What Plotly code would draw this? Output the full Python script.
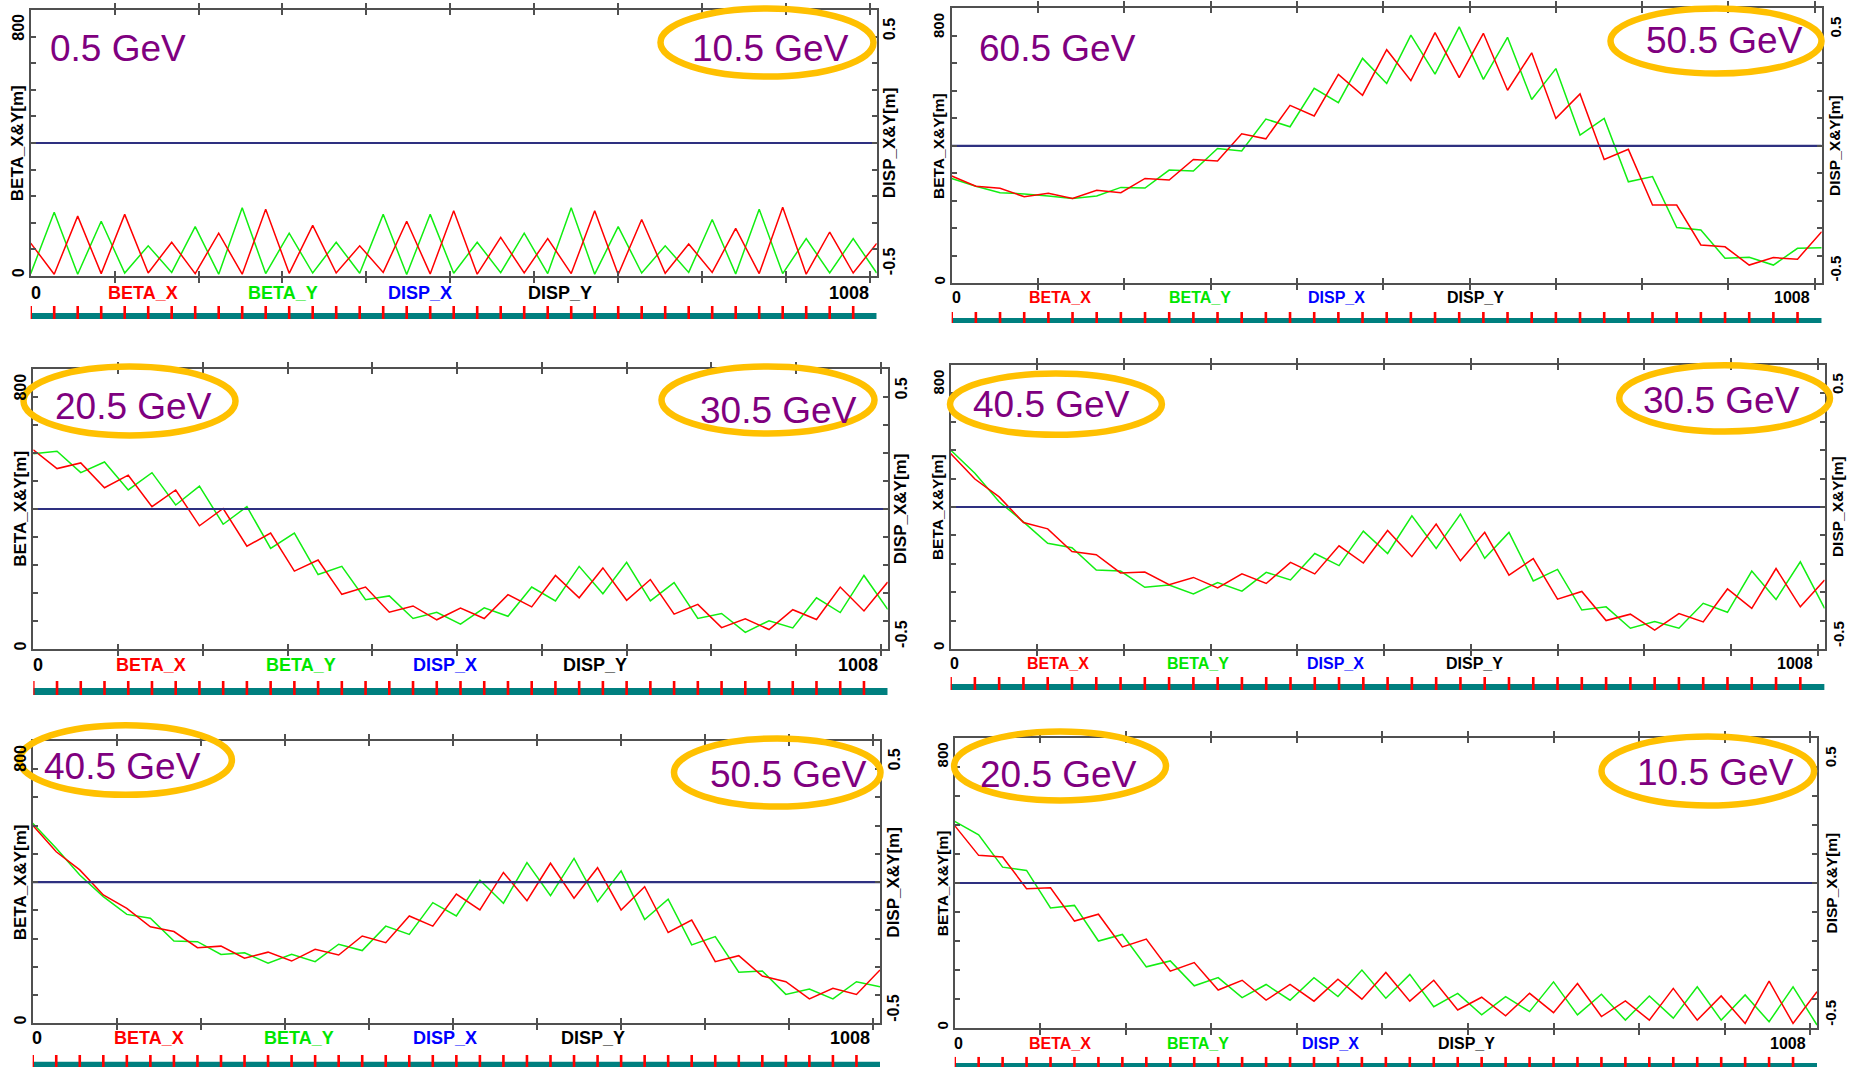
import plotly.graph_objects as go

# ---------------- data ----------------
S_QUAD = [0, 28, 56, 84, 112, 140, 168, 196, 224, 252, 280, 308, 336, 364, 392, 420, 448, 476,
          504, 532, 560, 588, 616, 644, 672, 700, 728, 756, 784, 812, 840, 868, 896, 924, 952, 980, 1008]
QUAD_MARKS = S_QUAD[:-1]

# panel A: 0.5 GeV / 10.5 GeV
BX_A = [110, 6, 200, 8, 206, 10, 113, 8, 143, 6, 223, 9, 169, 10, 101, 12, 183, 7, 218,
        6, 129, 10, 125, 8, 218, 5, 189, 9, 107, 12, 159, 8, 230, 6, 147, 10, 109]
BY_A = [8, 213, 6, 183, 10, 101, 12, 165, 6, 228, 8, 143, 10, 113, 9, 206, 5, 206, 9,
        113, 11, 143, 8, 228, 6, 165, 10, 101, 12, 189, 7, 223, 8, 125, 10, 125, 10]
# panel B: 60.5 GeV / 50.5 GeV
BX_B = [347, 314, 307, 280, 291, 274, 301, 293, 339, 334, 400, 395, 483, 467, 575, 541, 675, 608, 755,
        655, 810, 665, 808, 624, 745, 533, 612, 400, 433, 253, 253, 124, 118, 59, 83, 78, 167]
BY_B = [339, 314, 293, 289, 282, 274, 282, 310, 308, 366, 363, 436, 428, 531, 506, 630, 584, 727, 646,
        802, 676, 829, 659, 795, 594, 694, 479, 533, 328, 345, 180, 172, 81, 84, 59, 113, 115]
# panel C: 20.5 GeV / 30.5 GeV
BX_C = [633, 573, 591, 512, 552, 452, 505, 391, 446, 326, 368, 247, 282, 173, 196, 116, 136, 92, 129,
        96, 172, 133, 233, 162, 257, 154, 220, 110, 141, 67, 95, 61, 124, 93, 196, 120, 212]
BY_C = [620, 628, 560, 594, 505, 560, 457, 517, 396, 452, 319, 368, 236, 262, 156, 168, 96, 116, 78,
        130, 103, 196, 152, 262, 175, 275, 152, 210, 96, 112, 52, 89, 66, 162, 115, 233, 125]
# panel D: 40.5 GeV / 30.5 GeV
BX_D = [612, 532, 476, 396, 376, 305, 295, 238, 241, 201, 224, 191, 235, 205, 271, 235, 323, 269, 371,
        289, 391, 276, 365, 231, 283, 156, 180, 89, 109, 59, 111, 85, 188, 127, 252, 132, 216]
BY_D = [623, 550, 461, 398, 331, 317, 247, 244, 193, 200, 172, 208, 181, 240, 216, 299, 261, 369, 299,
        417, 315, 422, 284, 365, 213, 249, 122, 132, 65, 86, 65, 143, 115, 244, 155, 273, 127]
# panel E: 40.5 GeV / 50.5 GeV
BX_E = [624, 540, 483, 404, 362, 304, 289, 238, 243, 205, 224, 196, 233, 215, 275, 254, 338, 306, 407,
        357, 475, 386, 504, 394, 490, 357, 430, 286, 325, 194, 213, 149, 131, 77, 110, 91, 168]
BY_E = [630, 551, 467, 399, 343, 331, 259, 257, 217, 222, 189, 217, 194, 249, 229, 306, 280, 380, 338,
        451, 378, 506, 402, 519, 383, 480, 327, 391, 247, 273, 161, 165, 91, 108, 77, 131, 115]
# panel F: 20.5 GeV / 10.5 GeV
BX_F = [620, 529, 524, 427, 430, 328, 349, 249, 273, 175, 201, 117, 147, 86, 134, 83, 150, 89, 171,
        83, 147, 56, 95, 38, 107, 48, 137, 36, 84, 25, 122, 25, 99, 15, 144, 15, 112]
BY_F = [633, 592, 493, 483, 368, 376, 267, 287, 188, 206, 130, 155, 94, 134, 86, 155, 97, 178, 92,
        165, 66, 107, 41, 97, 51, 142, 41, 104, 25, 99, 31, 127, 25, 102, 20, 127, 10]

DISP_S = [0, 1008]
DISP_X = [0.0, 0.0]
DISP_Y = [0.0, 0.0]

ENERGY_LEFT = ["0.5 GeV", "60.5 GeV", "20.5 GeV", "40.5 GeV", "40.5 GeV", "20.5 GeV"]
ENERGY_RIGHT = ["10.5 GeV", "50.5 GeV", "30.5 GeV", "30.5 GeV", "50.5 GeV", "10.5 GeV"]
ROW_LABELS = ["0", "BETA_X", "BETA_Y", "DISP_X", "DISP_Y", "1008"]
LEFT_TITLE = "BETA_X&Y[m]"
RIGHT_TITLE = "DISP_X&Y[m]"
LEFT_TICKS = ["0", "800"]
RIGHT_TICKS = ["-0.5", "0.5"]

BETA_X = [BX_A, BX_B, BX_C, BX_D, BX_E, BX_F]
BETA_Y = [BY_A, BY_B, BY_C, BY_D, BY_E, BY_F]

# ---------------- layout (pixel geometry) ----------------
W, H = 1853, 1067
PANELS = [
    dict(box=(30.7, 10, 876.7, 276), ly=293.3, lxs=[36, 143, 283, 419.5, 559.5, 848.5], fs=18,
         strip=(306, 313, 319), ts=17, tks=16, lt=(117.5, 48), rt=(770, 48),
         le=None, re=(657, 5, 877, 80)),
    dict(box=(951.7, 8.3, 1821.7, 283.3), ly=297.7, lxs=[956, 1059.5, 1199.7, 1336, 1475.8, 1792], fs=16,
         strip=(312, 318, 323), ts=15.5, tks=15, lt=(1057, 48), rt=(1724, 40),
         le=None, re=(1607, 5, 1825, 77)),
    dict(box=(33.3, 369.3, 887.7, 648.7), ly=665, lxs=[38.3, 151, 300.5, 445.3, 594.7, 857.5], fs=18,
         strip=(681, 688, 695), ts=17, tks=16, lt=(133, 406), rt=(778, 410),
         le=(20, 363, 239, 439), re=(658, 363, 878, 437)),
    dict(box=(950.6, 365, 1824.6, 649), ly=663, lxs=[954.7, 1058, 1198, 1335, 1474, 1795], fs=16,
         strip=(677, 684, 690), ts=15.5, tks=15, lt=(1051, 404), rt=(1721, 400.5),
         le=(946.5, 370, 1165.4, 438.3), re=(1615.7, 361.7, 1833.5, 435)),
    dict(box=(32.7, 741, 880, 1023.3), ly=1038.3, lxs=[37.3, 149, 298.5, 445, 593, 849.6], fs=18,
         strip=(1055, 1061.7, 1067), ts=17, tks=16, lt=(122, 766), rt=(788, 774),
         le=(16, 721.7, 235.4, 798.3), re=(670.5, 735, 884, 810)),
    dict(box=(954.7, 737.7, 1817, 1028.3), ly=1043.3, lxs=[958, 1059.5, 1197.8, 1330, 1466.8, 1788], fs=16,
         strip=(1056.7, 1063, 1067), ts=15.5, tks=15, lt=(1058.5, 774), rt=(1715, 772),
         le=(950.6, 728, 1169.5, 804), re=(1598, 733, 1817.6, 809)),
]

RED = "#FF0000"
GREEN = "#12EE12"
NAVY = "#2E3080"
FRAME = "#505050"
PURPLE = "#7F007F"
ORANGE = "#FFC000"
TEAL = "#007F7F"
ROW_COLORS = ["#000000", "#FF0000", "#00E600", "#0000FF", "#000000", "#000000"]
FONT = "Liberation Sans, Arial, sans-serif"


def px(x):
    return x / W


def py(y):
    return 1 - y / H


def ref(prefix, n):
    return prefix if n == 1 else f"{prefix}{n}"


fig = go.Figure()
layout = dict(width=W, height=H, margin=dict(l=0, r=0, t=0, b=0), paper_bgcolor="white",
              plot_bgcolor="white", showlegend=False)
annotations = []
shapes = []

Y_TOP = 8000 / 9
left_tickvals = [k * 800 / 9 for k in range(11)]

for i, P in enumerate(PANELS):
    L, T, R, B = P["box"]
    xm, xs = 2 * i + 1, 2 * i + 2
    yl, yr, ys = 3 * i + 1, 3 * i + 2, 3 * i + 3
    axis_common = dict(showgrid=False, zeroline=False, showline=True, linecolor=FRAME, linewidth=2,
                       ticks="inside", ticklen=5, tickwidth=1.5, tickcolor=FRAME, showticklabels=False)
    layout[f"xaxis{xm}" if xm > 1 else "xaxis"] = dict(
        domain=[px(L), px(R)], range=[0, 1008], anchor=ref("y", yl), mirror="allticks",
        tick0=0, dtick=100, **axis_common)
    layout[f"yaxis{yl}" if yl > 1 else "yaxis"] = dict(
        domain=[py(B), py(T)], range=[0, Y_TOP], anchor=ref("x", xm), tickmode="array",
        tickvals=left_tickvals, **axis_common)
    layout[f"yaxis{yr}"] = dict(
        overlaying=ref("y", yl), side="right", range=[-0.625, 0.625], anchor=ref("x", xm),
        tick0=-0.625, dtick=0.125, **axis_common)
    # strip with quadrupole marks
    tick_top, teal_top, bottom = P["strip"]
    layout[f"xaxis{xs}"] = dict(domain=[px(L), px(R)], range=[0, 1008], anchor=ref("y", ys), visible=False)
    layout[f"yaxis{ys}"] = dict(domain=[py(bottom), py(tick_top)], range=[0, 1], anchor=ref("x", xs),
                                visible=False)
    frac = (bottom - teal_top) / (bottom - tick_top)
    shapes.append(dict(type="rect", xref=ref("x", xs), yref=ref("y", ys), x0=0, x1=1008, y0=0, y1=frac,
                       fillcolor=TEAL, line=dict(width=0), layer="below"))
    tx, ty = [], []
    for s in QUAD_MARKS:
        tx += [s, s, None]
        ty += [0, 1, None]
    fig.add_trace(go.Scatter(x=tx, y=ty, mode="lines", line=dict(color=RED, width=2.6),
                             xaxis=ref("x", xs), yaxis=ref("y", ys), hoverinfo="skip"))

    # dispersion lines
    fig.add_trace(go.Scatter(x=DISP_S, y=DISP_Y, mode="lines", line=dict(color="#000000", width=1),
                             xaxis=ref("x", xm), yaxis=ref("y", yr), name="DISP_Y"))
    fig.add_trace(go.Scatter(x=DISP_S, y=DISP_X, mode="lines", line=dict(color=NAVY, width=2.2),
                             xaxis=ref("x", xm), yaxis=ref("y", yr), name="DISP_X"))
    # beta functions
    fig.add_trace(go.Scatter(x=S_QUAD, y=BETA_Y[i], mode="lines", line=dict(color=GREEN, width=1.5),
                             xaxis=ref("x", xm), yaxis=ref("y", yl), name="BETA_Y"))
    fig.add_trace(go.Scatter(x=S_QUAD, y=BETA_X[i], mode="lines", line=dict(color=RED, width=1.5),
                             xaxis=ref("x", xm), yaxis=ref("y", yl), name="BETA_X"))

    # label row
    for lab, lx, col in zip(ROW_LABELS, P["lxs"], ROW_COLORS):
        annotations.append(dict(x=px(lx), y=py(P["ly"]), xref="paper", yref="paper", text=f"<b>{lab}</b>",
                                showarrow=False, xanchor="center", yanchor="middle",
                                font=dict(family=FONT, size=P["fs"], color=col)))
    # axis titles and tick labels (rotated)
    cl, cr = L - 12.5, R + 13.5
    mid = (T + B) / 2
    rot = [(cl, mid, LEFT_TITLE, P["ts"]), (cr, mid, RIGHT_TITLE, P["ts"]),
           (cl, B - 3, LEFT_TICKS[0], P["tks"]), (cl, T + 17.5, LEFT_TICKS[1], P["tks"]),
           (cr, B - 15, RIGHT_TICKS[0], P["tks"]), (cr, T + 19, RIGHT_TICKS[1], P["tks"])]
    for x, y, txt, sz in rot:
        annotations.append(dict(x=px(x), y=py(y), xref="paper", yref="paper", text=f"<b>{txt}</b>",
                                showarrow=False, xanchor="center", yanchor="middle", textangle=-90,
                                font=dict(family=FONT, size=sz, color="#000000")))
    # energy labels
    for (x, y), txt in ((P["lt"], ENERGY_LEFT[i]), (P["rt"], ENERGY_RIGHT[i])):
        annotations.append(dict(x=px(x), y=py(y), xref="paper", yref="paper", text=txt, showarrow=False,
                                xanchor="center", yanchor="middle",
                                font=dict(family=FONT, size=37, color=PURPLE)))
    for e in (P["le"], P["re"]):
        if e is None:
            continue
        x0, y0, x1, y1 = e
        inset = 3.5
        shapes.append(dict(type="circle", xref="paper", yref="paper", x0=px(x0 + inset), x1=px(x1 - inset),
                           y0=py(y1 - inset), y1=py(y0 + inset), line=dict(color=ORANGE, width=6.5),
                           layer="above"))

layout["annotations"] = annotations
layout["shapes"] = shapes
fig.update_layout(**layout)
fig.write_html("out.html", config={"displayModeBar": False})
